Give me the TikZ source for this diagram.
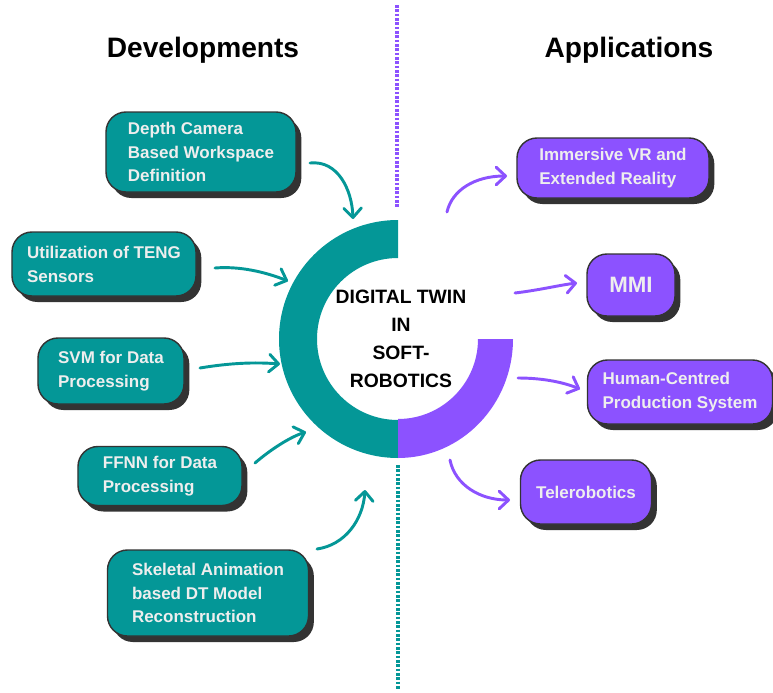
\documentclass[tikz,border=0pt]{standalone}
\usepackage{fontspec}
\setmainfont{Liberation Sans}
\usepackage{xcolor}
\usepackage{tikz}
\usetikzlibrary{arrows.meta,shadows}

\definecolor{dtteal}{HTML}{049797}
\definecolor{dtpurple}{HTML}{8C52FF}
\definecolor{dtdark}{HTML}{333333}
\definecolor{dtlight}{HTML}{EEEEEE}

\begin{document}
\begin{tikzpicture}[x=0.03cm, y=-0.03cm,
  devbox/.style={draw=dtdark, line width=1.2pt, fill=dtteal, rounded corners=0.6cm,
    text=dtlight, font=\bfseries\fontsize{14.5}{20.4}\selectfont, align=left,
    drop shadow={shadow xshift=0.16cm, shadow yshift=-0.18cm, fill=dtdark, opacity=1, shadow scale=1}},
  appbox/.style={devbox, fill=dtpurple},
  tarrow/.style={line width=2.5pt, dtteal, line cap=round, -{Straight Barb[round, length=8pt, width=15pt]}},
  parrow/.style={tarrow, dtpurple},
  divider/.style={line width=2.8pt, dash pattern=on 2.2pt off 1.5pt},
  heading/.style={font=\bfseries\fontsize{24}{28}\selectfont}]

\useasboundingbox (0,0) rectangle (773,693);

% Headings
\node[heading] (dev) at (203,50) {Developments};
\node[heading] (app) at (629,50) {Applications};

% Divider
\draw[divider, dtpurple] (397,5) -- (397,207);
\draw[divider, dtteal] (398,465) -- (398,690);

% Ring
\fill[dtteal] (398,220) arc[start angle=270, end angle=90, radius=119]
  -- (398,420) arc[start angle=90, end angle=270, radius=81] -- cycle;
\fill[dtpurple] (478,339) -- (513,339) arc[start angle=0, end angle=90, x radius=115, y radius=119]
  -- (398,419) arc[start angle=90, end angle=0, radius=80] -- cycle;
\node[align=center, font=\bfseries\fontsize{16.5}{23.8}\selectfont] (core) at (401,339)
  {DIGITAL TWIN\\IN\\SOFT-\\ROBOTICS};

% Developments
\node[devbox, minimum width=5.7cm, minimum height=2.4cm] (dcam) at (201,152)
  {Depth Camera\\Based Workspace\\Definition};
\node[devbox, minimum width=5.52cm, minimum height=1.92cm] (teng) at (104,264)
  {Utilization of TENG\\Sensors};
\node[devbox, minimum width=4.38cm, minimum height=1.98cm] (svm) at (111,371)
  {SVM for Data\\Processing};
\node[devbox, minimum width=4.92cm, minimum height=1.77cm] (ffnn) at (160,476)
  {FFNN for Data\\Processing};
\node[devbox, minimum width=6.03cm, minimum height=2.58cm] (skel) at (208,593)
  {Skeletal Animation\\based DT Model\\Reconstruction};

% Applications
\node[appbox, minimum width=5.76cm, minimum height=1.8cm] (vr) at (613,168)
  {Immersive VR and\\Extended Reality};
\node[appbox, minimum width=2.64cm, minimum height=1.86cm,
  font=\bfseries\fontsize{19}{22}\selectfont] (mmi) at (631,285) {MMI};
\node[appbox, minimum width=5.55cm, minimum height=1.92cm] (hcps) at (680,392)
  {Human-Centred\\Production System};
\node[appbox, minimum width=3.93cm, minimum height=1.92cm] (tele) at (586,492)
  {Telerobotics};

% Arrow ends
\coordinate (dcamout) at (310,163); \coordinate (dcamin) at (353,219);
\coordinate (tengout) at (215,268); \coordinate (tengin) at (288,281);
\coordinate (svmout) at (200,368);  \coordinate (svmin) at (280,364);
\coordinate (ffnnout) at (255,463); \coordinate (ffnnin) at (306,432);
\coordinate (skelout) at (317,549); \coordinate (skelin) at (365,490);
\coordinate (vrout) at (447,212);   \coordinate (vrin) at (507,176);
\coordinate (mmiout) at (515,293);  \coordinate (mmiin) at (577,283);
\coordinate (hcpsout) at (518,378); \coordinate (hcpsin) at (580,389);
\coordinate (teleout) at (450,460); \coordinate (telein) at (510,500);

% Arrows
\draw[tarrow] (dcamout) .. controls (338,160) and (352,190) .. (dcamin);
\draw[tarrow] (tengout) .. controls (240,266) and (265,272) .. (tengin);
\draw[tarrow] (svmout) .. controls (230,363) and (255,362) .. (svmin);
\draw[tarrow] (ffnnout) .. controls (270,450) and (290,437) .. (ffnnin);
\draw[tarrow] (skelout) .. controls (345,545) and (363,520) .. (skelin);
\draw[parrow] (vrout) .. controls (452,190) and (475,176) .. (vrin);
\draw[parrow] (mmiout) .. controls (540,290) and (560,285) .. (mmiin);
\draw[parrow] (hcpsout) .. controls (545,378) and (565,383) .. (hcpsin);
\draw[parrow] (teleout) .. controls (455,485) and (480,500) .. (telein);

\end{tikzpicture}
\end{document}
